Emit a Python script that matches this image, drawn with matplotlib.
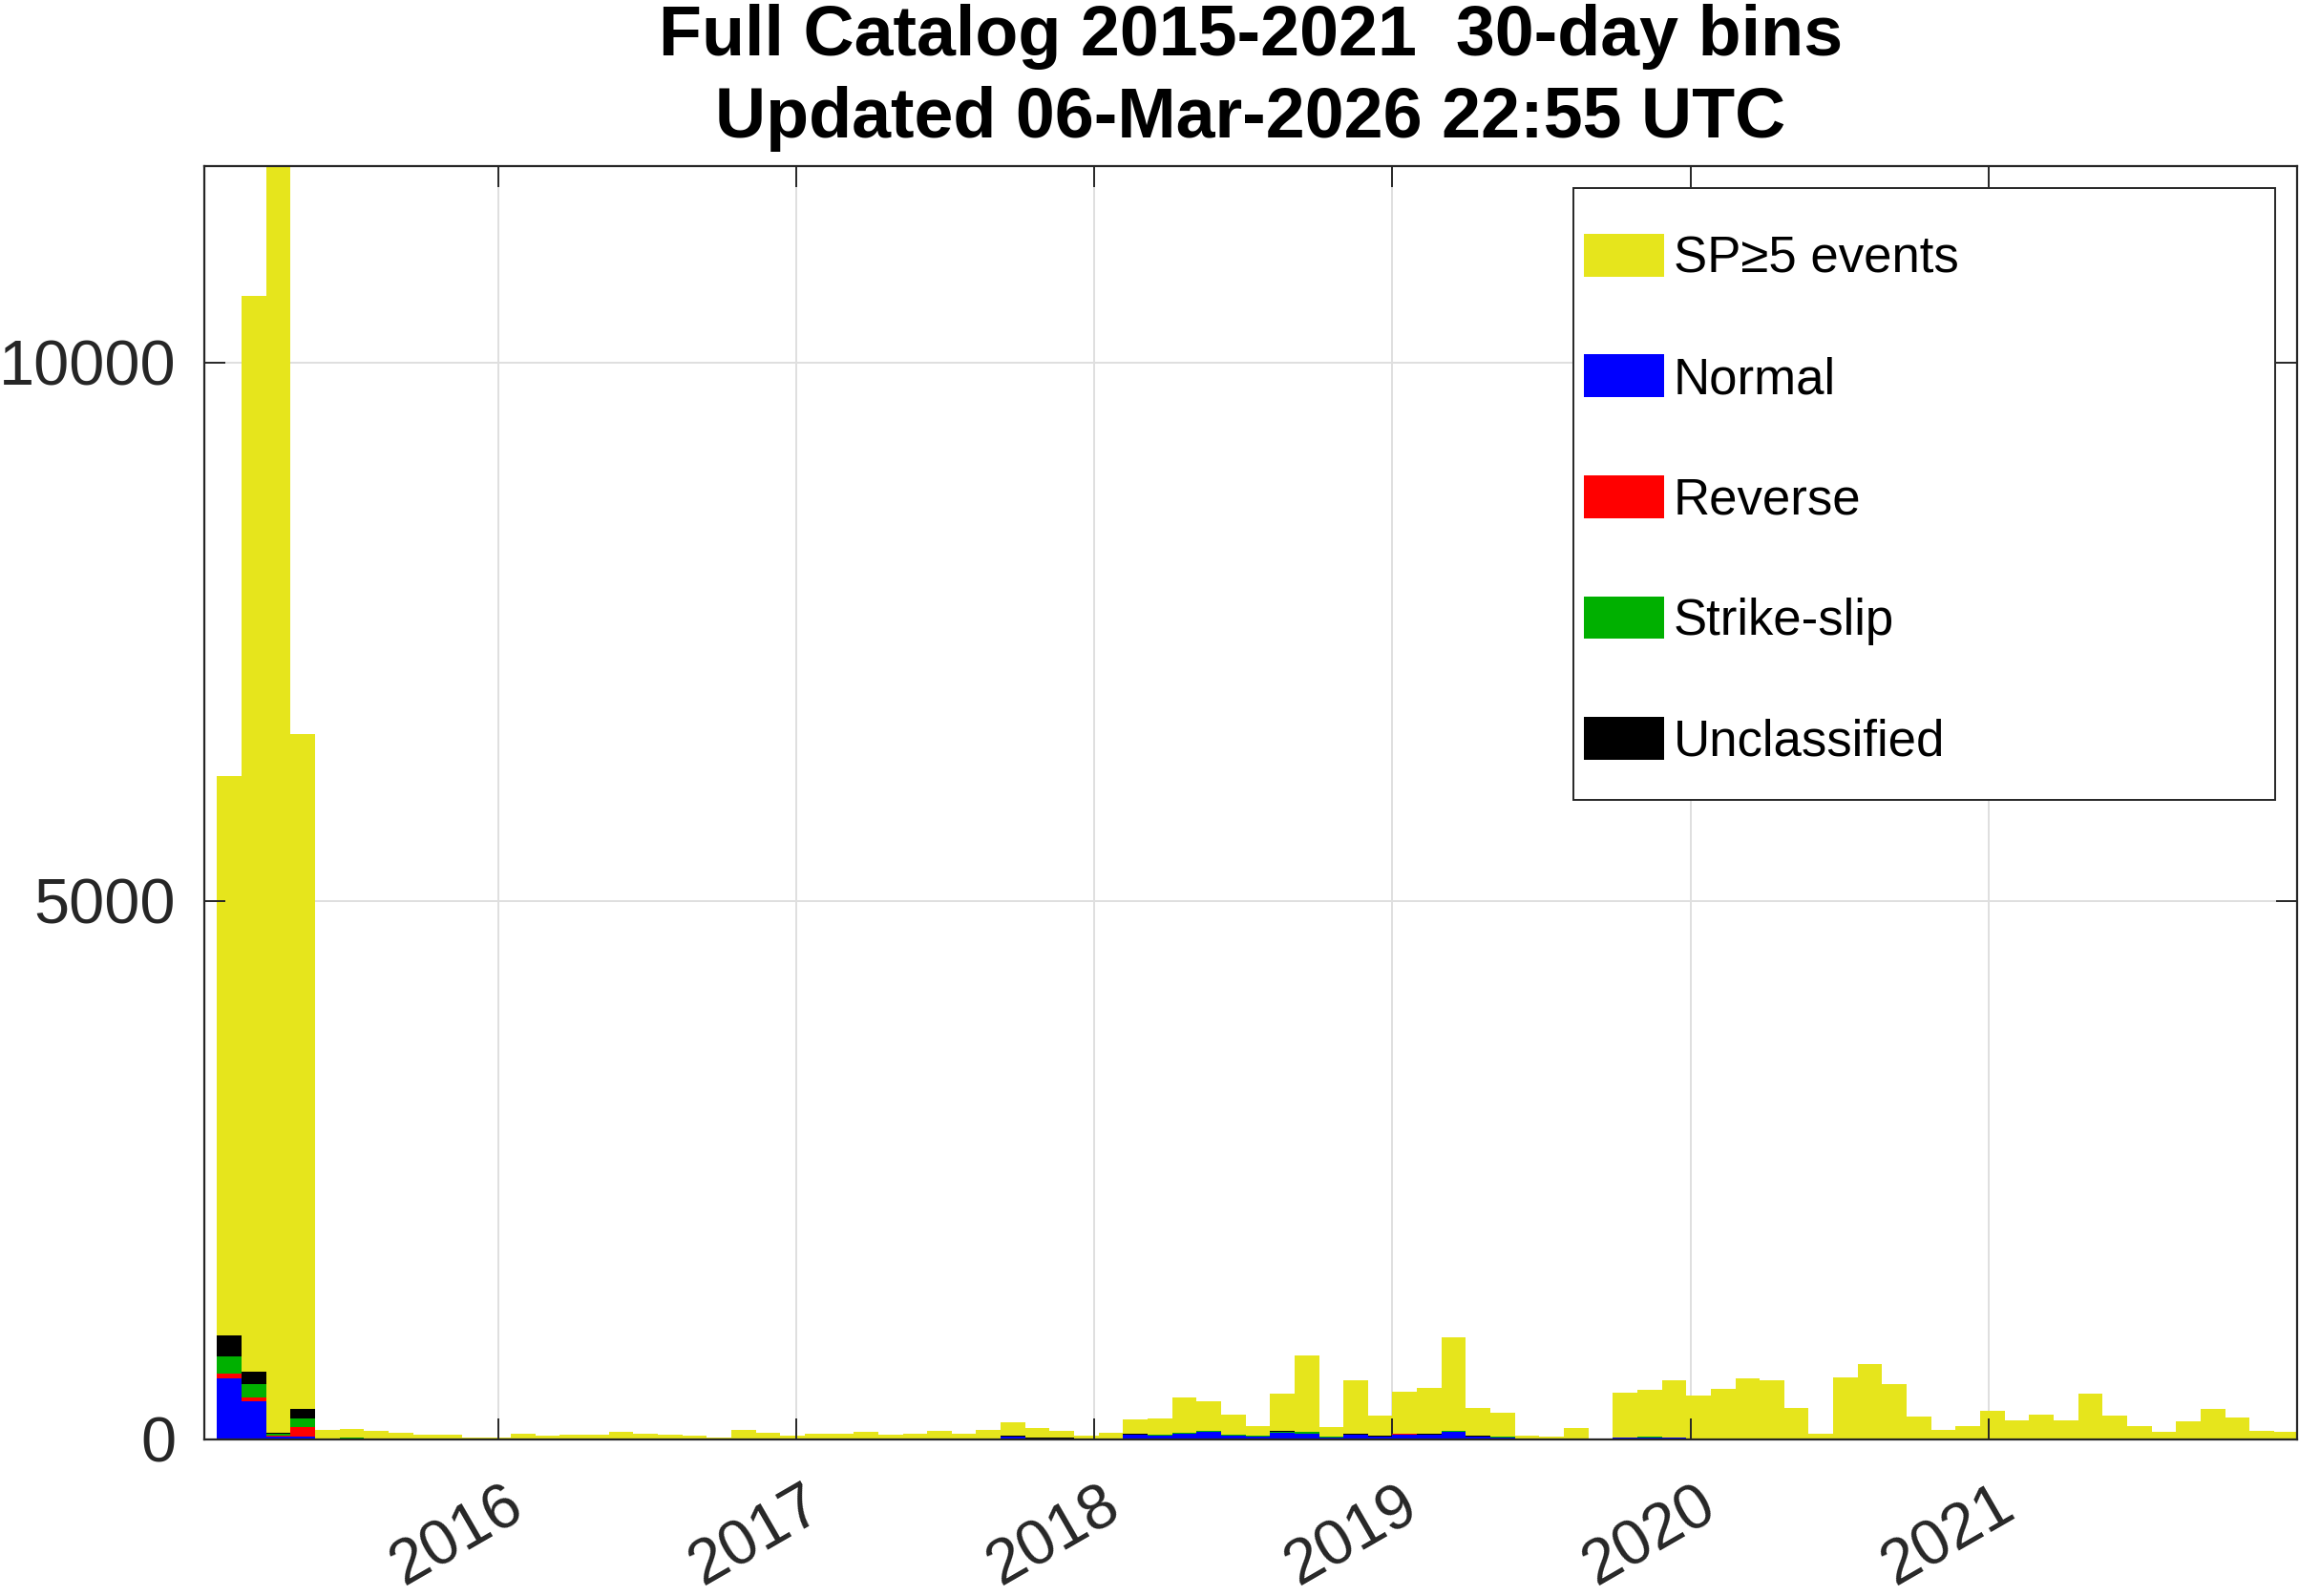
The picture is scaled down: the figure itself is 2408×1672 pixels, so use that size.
import numpy as np
import matplotlib.pyplot as plt
import matplotlib.dates as mdates
from matplotlib.patches import Patch, Rectangle
from matplotlib.transforms import ScaledTranslation

plt.rcParams['font.family'] = ['Liberation Sans', 'DejaVu Sans']

# 30-day bins, first bin starts here
first_bin = np.datetime64('2015-01-22')
bin_days = 30

# SP>=5 events per bin (total)
sp5 = [6160, 10620, 13000, 6550, 90, 100, 77, 65, 47, 47,
       21, 18, 56, 33, 44, 44, 68, 53, 47, 35,
       21, 86, 59, 38, 50, 53, 68, 44, 53, 80,
       53, 86, 157, 103, 83, 38, 65, 189, 192, 393,
       358, 233, 127, 426, 783, 118, 553, 219, 440, 482,
       949, 296, 251, 38, 27, 109, 0, 434, 464, 553,
       411, 473, 567, 547, 293, 50, 576, 700, 511, 213,
       92, 127, 266, 174, 233, 180, 423, 225, 127, 68,
       171, 281, 204, 80, 68]

normal = [570, 352, 30, 24, 5, 12, 5, 5, 3, 3,
          2, 2, 5, 3, 5, 3, 6, 4, 4, 3,
          2, 8, 6, 4, 5, 5, 8, 4, 5, 8,
          5, 8, 27, 12, 12, 5, 8, 44, 38, 50,
          70, 38, 30, 62, 55, 21, 40, 27, 48, 44,
          70, 27, 21, 5, 3, 8, 0, 15, 20, 15,
          10, 10, 10, 8, 8, 3, 8, 8, 5, 5,
          3, 3, 5, 3, 3, 3, 5, 5, 3, 2,
          3, 5, 3, 2, 2]

reverse = [45, 35, 5, 94, 0, 0, 0, 0, 0, 0,
           0, 0, 0, 0, 0, 0, 0, 0, 0, 0,
           0, 0, 0, 0, 0, 0, 0, 0, 0, 0,
           0, 0, 0, 0, 0, 0, 0, 0, 0, 2,
           2, 0, 0, 2, 2, 0, 1, 0, 1, 0,
           2, 0, 0, 0, 0, 0, 0, 0, 0, 0,
           0, 0, 0, 0, 0, 0, 0, 0, 0, 0,
           0, 0, 0, 0, 0, 0, 0, 0, 0, 0,
           0, 0, 0, 0, 0]

strike_slip = [156, 130, 18, 77, 1, 2, 1, 1, 0, 0,
               0, 0, 1, 0, 1, 0, 1, 0, 0, 0,
               0, 2, 1, 0, 0, 0, 1, 0, 0, 1,
               0, 1, 3, 1, 1, 0, 1, 4, 3, 8,
               5, 3, 2, 8, 12, 1, 6, 2, 4, 3,
               5, 2, 1, 0, 0, 1, 0, 2, 2, 2,
               1, 1, 1, 1, 1, 0, 1, 1, 1, 0,
               0, 0, 1, 0, 0, 0, 1, 0, 0, 0,
               0, 1, 0, 0, 0]

unclassified = [198, 112, 12, 89, 2, 3, 2, 2, 1, 1,
                1, 1, 2, 1, 2, 1, 2, 1, 1, 1,
                1, 2, 2, 1, 1, 1, 2, 1, 1, 2,
                1, 2, 3, 2, 2, 1, 2, 3, 3, 4,
                4, 3, 2, 4, 5, 2, 4, 2, 3, 3,
                6, 2, 2, 1, 1, 2, 0, 3, 3, 3,
                2, 2, 2, 2, 2, 1, 2, 2, 2, 1,
                1, 1, 2, 1, 1, 1, 2, 1, 1, 1,
                1, 2, 1, 1, 1]

year_labels = ['2016', '2017', '2018', '2019', '2020', '2021']
y_ticks = [0, 5000, 10000]

title_lines = ['Full Catalog 2015-2021  30-day bins',
               'Updated 06-Mar-2026 22:55 UTC']

yellow = '#e6e51c'
axis_col = '#262626'

fig = plt.figure(figsize=(12.04, 8.36), dpi=200)
ax = fig.add_axes([0.0890, 0.0981, 0.9100, 0.7977])

n = len(sp5)
edges = first_bin + bin_days * np.arange(n)
x = mdates.date2num(edges.astype('datetime64[D]').astype(object))

# background grid (behind bars)
years = [np.datetime64(y + '-01-01') for y in year_labels]
xt = mdates.date2num([y.astype(object) for y in years])
for v in xt:
    ax.axvline(v, color='#dfdfdf', lw=0.7, zorder=0)
for v in y_ticks[1:]:
    ax.axhline(v, color='#dfdfdf', lw=0.7, zorder=0)

ax.bar(x, sp5, width=bin_days, align='edge', color=yellow, lw=0, zorder=1)

bottom = np.zeros(n)
stack = [(normal, '#0000ff'), (reverse, '#ff0000'),
         (strike_slip, '#00b000'), (unclassified, '#000000')]
for vals, col in stack:
    vals = np.array(vals, dtype=float)
    ax.bar(x, vals, width=bin_days, bottom=bottom, align='edge',
           color=col, lw=0, zorder=2)
    bottom += vals

ax.set_xlim(mdates.date2num(np.datetime64('2015-01-06T16:00').astype(object)),
            mdates.date2num(np.datetime64('2022-01-12T20:00').astype(object)))
ax.set_ylim(0, 11823)

ax.set_xticks(xt)
ax.set_xticklabels(year_labels)
ax.set_yticks(y_ticks)
ax.set_yticklabels([str(v) for v in y_ticks])

for s in ax.spines.values():
    s.set_color(axis_col)
    s.set_linewidth(0.8)
    s.set_zorder(4)

ax.tick_params(direction='in', length=7.9, width=0.7, top=True, right=True,
               color=axis_col, labelcolor=axis_col, labelsize=24)
ax.tick_params(axis='y', pad=10.8)
ax.tick_params(axis='x', pad=36.5)
offset = ScaledTranslation(-0.21, 0, fig.dpi_scale_trans)
for lab in ax.get_xticklabels():
    lab.set_rotation(30)
    lab.set_ha('center')
    lab.set_va('center')
    lab.set_rotation_mode('anchor')
    lab.set_transform(lab.get_transform() + offset)

# legend box
ax.add_patch(Rectangle((0.6543, 0.502), 0.3354, 0.481, transform=ax.transAxes,
                       facecolor='white', edgecolor=axis_col, lw=0.7, zorder=5))
handles = [Patch(facecolor=yellow, edgecolor='none'),
           Patch(facecolor='#0000ff', edgecolor='none'),
           Patch(facecolor='#ff0000', edgecolor='none'),
           Patch(facecolor='#00b000', edgecolor='none'),
           Patch(facecolor='#000000', edgecolor='none')]
names = ['SP\u22655 events', 'Normal', 'Reverse', 'Strike-slip', 'Unclassified']
leg = ax.legend(handles, names, loc='upper left', bbox_to_anchor=(0.6593, 0.947),
                frameon=False, fontsize=19, borderpad=0, borderaxespad=0,
                handlelength=1.585, handleheight=0.93, handletextpad=0.19,
                labelspacing=1.42)
leg.set_zorder(6)

fig.text(0.544, 0.9653, title_lines[0], ha='center', va='baseline',
         fontsize=26.5, fontweight='bold', color='black')
fig.text(0.544, 0.9139, title_lines[1], ha='center', va='baseline',
         fontsize=26.5, fontweight='bold', color='black')

fig.savefig('out.png', dpi=200)
